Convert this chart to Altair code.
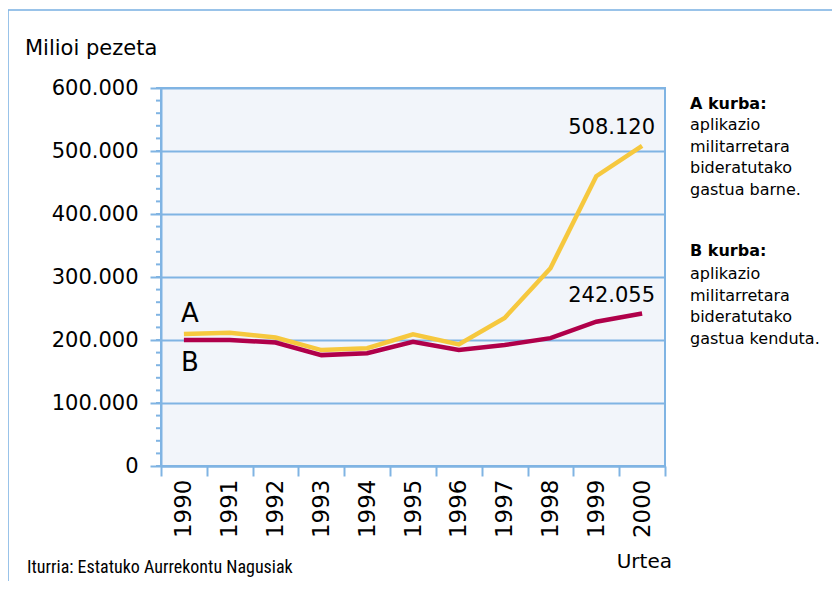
import altair as alt
import pandas as pd

years = ["1990", "1991", "1992", "1993", "1994", "1995", "1996", "1997", "1998", "1999", "2000"]
a_vals = [209500, 211500, 204000, 184000, 187000, 209000, 193000, 235000, 314000, 460000, 508120]
b_vals = [200000, 200000, 196000, 176000, 179000, 197000, 184000, 192000, 203000, 229000, 242055]
major_ticks = [0, 100000, 200000, 300000, 400000, 500000, 600000]
minor_ticks = list(range(0, 600001, 20000))

BLUE = "#80B4E3"
YELLOW = "#F6C83E"
CRIMSON = "#B0004A"
FONT = "DejaVu Sans"


def fmt(v):
    return f"{v:,}".replace(",", ".")


rows = []
for y, a, b in zip(years, a_vals, b_vals):
    rows.append({"year": y, "series": "A", "value": a, "lab": fmt(a)})
    rows.append({"year": y, "series": "B", "value": b, "lab": fmt(b)})
df = pd.DataFrame(rows)

x_enc = alt.X(
    "year:N",
    sort=years,
    scale=alt.Scale(type="band", paddingInner=0, paddingOuter=0),
    axis=alt.Axis(
        title=None, labelAngle=270, tickBand="extent", tickSize=10, labelPadding=3,
        labelFont=FONT, labelFontSize=23, labelColor="black",
        domainColor=BLUE, domainWidth=2, tickColor=BLUE, tickWidth=2,
    ),
)
y_axis = alt.Axis(
    title=None, values=major_ticks, tickSize=11, labelPadding=12,
    labelExpr="datum.value == 0 ? '0' : format(datum.value / 1000, 'd') + '.000'",
    labelFont=FONT, labelFontSize=21, labelColor="black",
    domainColor=BLUE, domainWidth=2, tickColor=BLUE, tickWidth=2,
    grid=True, gridColor=BLUE, gridWidth=2,
)
y_enc = alt.Y("value:Q", scale=alt.Scale(domain=[0, 600000], nice=False), axis=y_axis)

base = alt.Chart(df)

lines = base.mark_line(strokeWidth=4.5).encode(
    x=x_enc,
    y=y_enc,
    color=alt.Color("series:N", scale=alt.Scale(domain=["A", "B"], range=[YELLOW, CRIMSON]), legend=None),
    order=alt.Order("year:N"),
)

minor = alt.Chart(pd.DataFrame({"value": minor_ticks})).mark_rule(color=BLUE, strokeWidth=2).encode(
    y=y_enc,
    x=alt.value(-5),
    x2=alt.value(0),
)

end_labels = base.transform_filter(alt.datum.year == "2000").mark_text(
    align="right", baseline="middle", dx=13, dy=-18, font=FONT, fontSize=21, color="black"
).encode(x=alt.X("year:N", sort=years), y=y_enc, text="lab:N")

a_mark = base.transform_filter((alt.datum.year == "1990") & (alt.datum.series == "A")).mark_text(
    align="center", baseline="middle", dx=6, dy=-20, font=FONT, fontSize=26, color="black"
).encode(x=alt.X("year:N", sort=years), y=y_enc, text="series:N")

b_mark = base.transform_filter((alt.datum.year == "1990") & (alt.datum.series == "B")).mark_text(
    align="center", baseline="middle", dx=6, dy=23, font=FONT, fontSize=26, color="black"
).encode(x=alt.X("year:N", sort=years), y=y_enc, text="series:N")

one = pd.DataFrame({"k": [0]})


def txt(text, x, y, size, align="left", weight="normal", font=FONT, line_height=None):
    kw = dict(align=align, baseline="alphabetic", font=font, fontSize=size, fontWeight=weight, color="black")
    if line_height:
        kw["lineHeight"] = line_height
    return alt.Chart(one).mark_text(**kw).encode(
        x=alt.value(x), y=alt.value(y), text=alt.value(text)
    )


title = txt("Milioi pezeta", -136, -33, 21)
urtea = txt("Urtea", 511, 480, 20, align="right")
source = txt("Iturria: Estatuko Aurrekontu Nagusiak", -134, 485, 18,
             font="Liberation Sans Narrow, Roboto Condensed, Roboto")
a_head = txt("A kurba:", 529, 21, 16, weight="bold")
a_body = txt(["aplikazio", "militarretara", "bideratutako", "gastua barne."], 529, 42, 16, line_height=21.5)
b_head = txt("B kurba:", 529, 168, 16, weight="bold")
b_body = txt(["aplikazio", "militarretara", "bideratutako", "gastua kenduta."], 529, 191, 16, line_height=21.5)

frame_top = alt.Chart(one).mark_rule(color=BLUE, strokeWidth=2, opacity=0.8).encode(
    x=alt.value(-153), x2=alt.value(680), y=alt.value(-78)
)
frame_left = alt.Chart(one).mark_rule(color=BLUE, strokeWidth=2, opacity=0.8).encode(
    x=alt.value(-153), y=alt.value(-78), y2=alt.value(500)
)

chart = alt.layer(
    lines, minor, end_labels, a_mark, b_mark, title, urtea, source,
    a_head, a_body, b_head, b_body, frame_top, frame_left,
).properties(
    width=504, height=378,
    autosize=alt.AutoSizeParams(type="none"),
    padding={"left": 153, "top": 80, "right": 167, "bottom": 115},
).configure_view(
    stroke=BLUE, strokeWidth=2, fill="#F2F5FA"
)

chart.save("out.html", embed_options={"renderer": "svg", "actions": False})
